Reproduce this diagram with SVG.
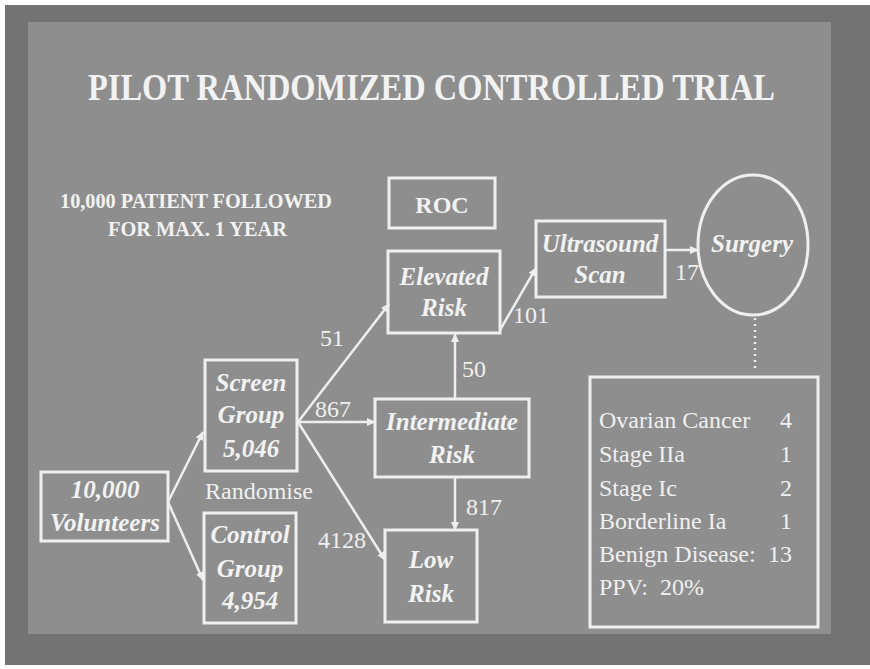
<svg xmlns="http://www.w3.org/2000/svg" width="870" height="669" viewBox="0 0 870 669">
<defs>
<style>
.box{fill:none;stroke:#efefef;stroke-width:3}
.ln{fill:none;stroke:#eeeeee;stroke-width:2.5}
.nt{font-family:"Liberation Serif",serif;font-weight:bold;font-style:italic;font-size:25px;fill:#f2f2f2;text-anchor:middle}
.lb{font-family:"Liberation Serif",serif;font-size:24px;fill:#f0f0f0}
.hd{font-family:"Liberation Serif",serif;font-weight:bold;fill:#f2f2f2}
</style>
<marker id="ah" markerUnits="userSpaceOnUse" markerWidth="9" markerHeight="8" refX="8" refY="4" orient="auto">
<path d="M0,0 L9,4 L0,8 z" fill="#eeeeee"/>
</marker>
</defs>
<rect x="0" y="0" width="870" height="669" fill="#ffffff"/>
<rect x="5" y="5" width="865" height="660" fill="#737373"/>
<rect x="28" y="22" width="803" height="612" fill="#8e8e8e"/>
<text class="hd" x="88" y="100" font-size="37" textLength="687" lengthAdjust="spacingAndGlyphs">PILOT RANDOMIZED CONTROLLED TRIAL</text>
<text class="hd" x="60" y="208" font-size="20" textLength="272" lengthAdjust="spacingAndGlyphs">10,000 PATIENT FOLLOWED</text>
<text class="hd" x="108" y="236" font-size="20" textLength="179" lengthAdjust="spacingAndGlyphs">FOR MAX. 1 YEAR</text>
<g id="connectors">
<line class="ln" x1="168" y1="502" x2="203" y2="432" marker-end="url(#ah)"/>
<line class="ln" x1="168" y1="502" x2="203" y2="580" marker-end="url(#ah)"/>
<line class="ln" x1="298" y1="422" x2="389" y2="304" marker-end="url(#ah)"/>
<line class="ln" x1="298" y1="422" x2="375" y2="422" marker-end="url(#ah)"/>
<line class="ln" x1="298" y1="422" x2="385" y2="560" marker-end="url(#ah)"/>
<line class="ln" x1="455" y1="399" x2="455" y2="334" marker-end="url(#ah)"/>
<line class="ln" x1="455" y1="477" x2="455" y2="530" marker-end="url(#ah)"/>
<line class="ln" x1="500" y1="330" x2="536" y2="268" marker-end="url(#ah)"/>
<line class="ln" x1="665" y1="250" x2="698" y2="250" marker-end="url(#ah)"/>
<line class="ln" x1="755" y1="318" x2="755" y2="372" stroke-dasharray="2 4"/>
<text class="lb" x="320" y="346">51</text>
<text class="lb" x="315" y="417">867</text>
<text class="lb" x="318" y="548">4128</text>
<text class="lb" x="462" y="377">50</text>
<text class="lb" x="466" y="515">817</text>
<text class="lb" x="513" y="323">101</text>
<text class="lb" x="675" y="280">17</text>
</g>
<g id="roc">
<rect class="box" x="389" y="178" width="106" height="50"/>
<text class="hd" x="442" y="213" font-size="24" text-anchor="middle">ROC</text>
</g>
<g id="volunteers">
<rect class="box" x="41" y="472" width="127" height="69"/>
<text class="nt" x="105" y="498">10,000</text>
<text class="nt" x="105" y="531">Volunteers</text>
</g>
<g id="screen">
<rect class="box" x="205" y="360" width="92" height="111"/>
<text class="nt" x="251" y="391">Screen</text>
<text class="nt" x="251" y="423">Group</text>
<text class="nt" x="251" y="457">5,046</text>
</g>
<text class="lb" x="205" y="499" font-size="25">Randomise</text>
<g id="control">
<rect class="box" x="204" y="513" width="92" height="110"/>
<text class="nt" x="250" y="543">Control</text>
<text class="nt" x="250" y="577">Group</text>
<text class="nt" x="250" y="609">4,954</text>
</g>
<g id="elevated">
<rect class="box" x="388" y="251" width="112" height="82"/>
<text class="nt" x="444" y="285">Elevated</text>
<text class="nt" x="444" y="316">Risk</text>
</g>
<g id="intermediate">
<rect class="box" x="375" y="399" width="154" height="78"/>
<text class="nt" x="452" y="430">Intermediate</text>
<text class="nt" x="452" y="463">Risk</text>
</g>
<g id="low">
<rect class="box" x="385" y="530" width="92" height="92"/>
<text class="nt" x="431" y="568">Low</text>
<text class="nt" x="431" y="602">Risk</text>
</g>
<g id="ultrasound">
<rect class="box" x="536" y="221" width="129" height="76"/>
<text class="nt" x="600" y="252">Ultrasound</text>
<text class="nt" x="600" y="283">Scan</text>
</g>
<g id="surgery">
<ellipse class="box" cx="753" cy="245" rx="55" ry="70"/>
<text class="nt" x="752" y="252">Surgery</text>
</g>
<g id="results">
<rect class="box" x="590" y="377" width="228" height="250"/>
<text class="lb" x="599" y="428">Ovarian Cancer</text>
<text class="lb" x="599" y="462">Stage IIa</text>
<text class="lb" x="599" y="496">Stage Ic</text>
<text class="lb" x="599" y="529">Borderline Ia</text>
<text class="lb" x="599" y="562">Benign Disease:</text>
<text class="lb" x="599" y="595" xml:space="preserve">PPV:  20%</text>
<text class="lb" x="792" y="428" text-anchor="end">4</text>
<text class="lb" x="792" y="462" text-anchor="end">1</text>
<text class="lb" x="792" y="496" text-anchor="end">2</text>
<text class="lb" x="792" y="529" text-anchor="end">1</text>
<text class="lb" x="792" y="562" text-anchor="end">13</text>
</g>
</svg>
